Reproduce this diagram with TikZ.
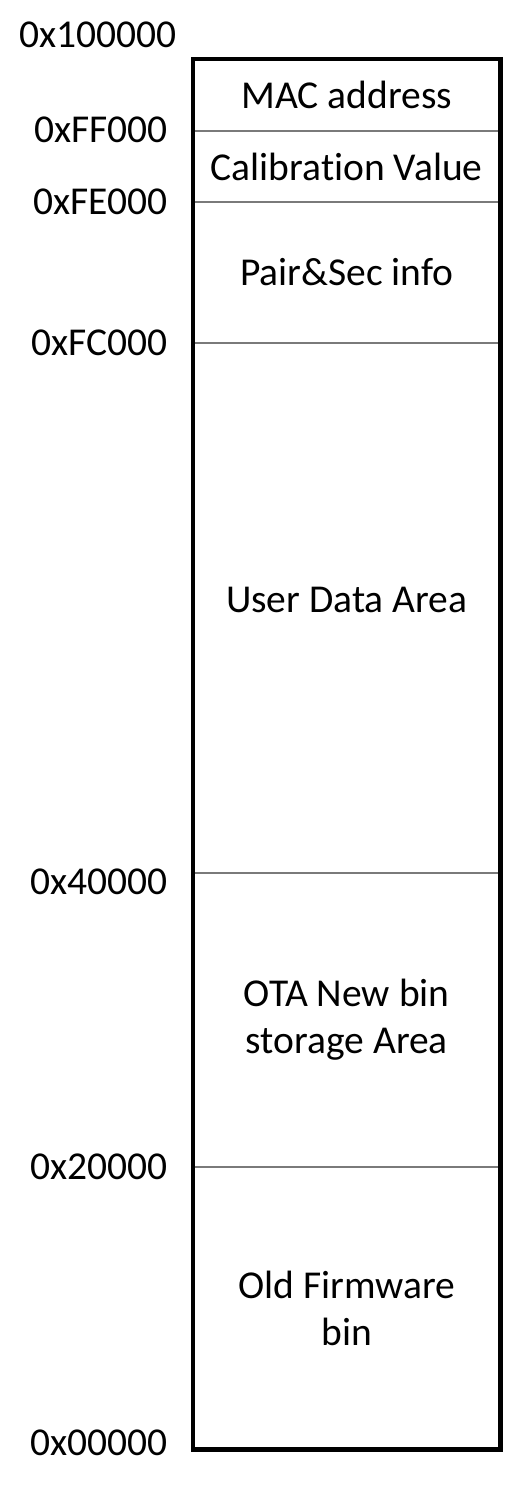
\documentclass[tikz,border=0pt]{standalone}
\usepackage{fontspec}
\setmainfont[Ligatures=NoCommon]{Carlito}
\definecolor{sepgray}{HTML}{7a7a7a}
\tikzstyle{region}=[draw=sepgray, line width=1.2pt, minimum width=306.5pt, inner sep=0, align=center, font=\fontsize{39.5}{47}\selectfont]
\tikzstyle{addr}=[anchor=east, inner sep=0, font=\fontsize{39.5}{47}\selectfont]

\begin{document}
\begin{tikzpicture}[x=1pt, y=1pt]
\useasboundingbox (0,0) rectangle (507,-1489);

\node [region, minimum height=71.5pt ] (mac)  at (346.75, -95.25) {MAC address};
\node [region, minimum height=71pt   ] (cal)  at (346.75,-166.5 ) {Calibration Value};
\node [region, minimum height=141pt  ] (pair) at (346.75,-272.5 ) {Pair\&Sec info};
\node [region, minimum height=530pt, text depth=16pt] (user) at (346.75,-608) {User Data Area};
\node [region, minimum height=294pt  ] (ota)  at (346.75,-1020  ) {OTA New bin\\storage Area};
\node [region, minimum height=282pt  ] (old)  at (346.75,-1308  ) {Old Firmware\\bin};

\draw [line width=4.5pt, line cap=rect] (mac.north west) rectangle (old.south east);

\node [addr] (a100000) at (177,  -35) {0x100000};
\node [addr] (aFF000)  at (168, -130) {0xFF000};
\node [addr] (aFE000)  at (168, -202) {0xFE000};
\node [addr] (aFC000)  at (168, -343) {0xFC000};
\node [addr] (a40000)  at (168, -882) {0x40000};
\node [addr] (a20000)  at (168,-1167) {0x20000};
\node [addr] (a00000)  at (168,-1443) {0x00000};

\end{tikzpicture}
\end{document}
